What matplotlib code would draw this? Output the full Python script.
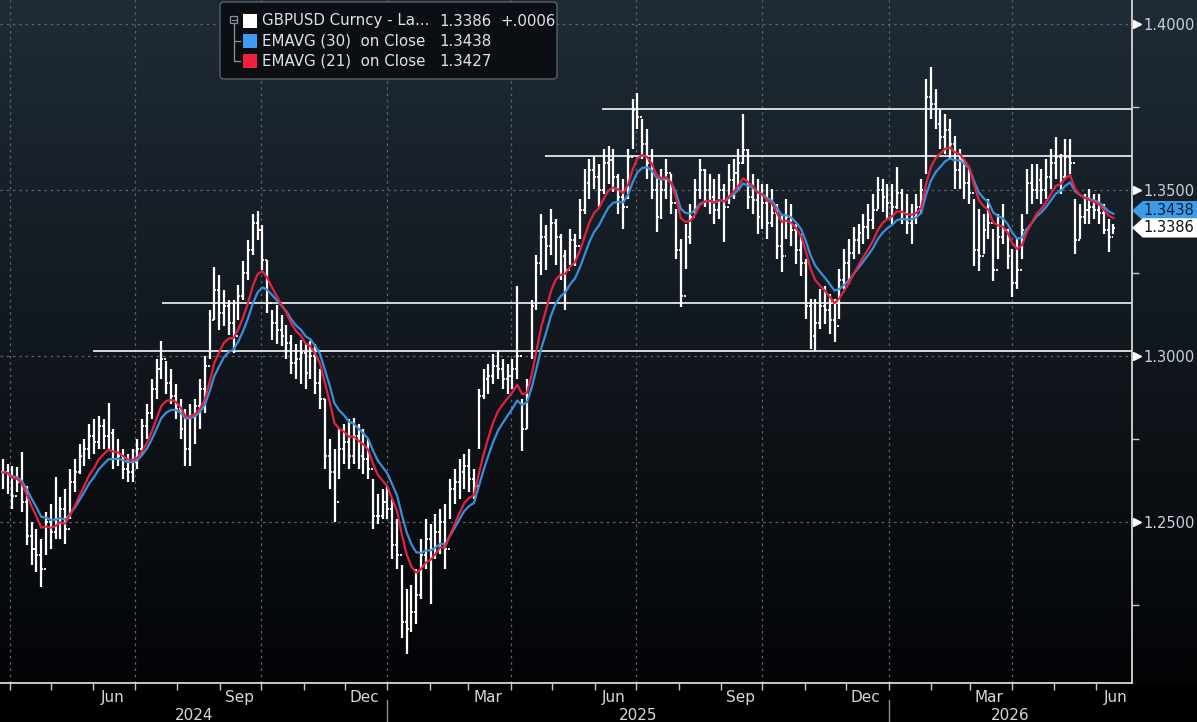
import numpy as np
import pandas as pd
import matplotlib
matplotlib.use("Agg")
import matplotlib.pyplot as plt
import matplotlib.dates as mdates
import matplotlib.ticker as ticker
from matplotlib.transforms import blended_transform_factory
from matplotlib.patches import Polygon, Rectangle, FancyBboxPatch

plt.rcParams['font.family'] = ['DejaVu Sans']

# GBPUSD, one bar per half week, in pips (12650 = 1.2650)
high = [
    12690, 12675, 12670, 12665, 12710, 12610, 12500, 12480, 12450, 12530,
    12555, 12635, 12575, 12600, 12660, 12690, 12735, 12750, 12795, 12810,
    12820, 12810, 12860, 12780, 12750, 12720, 12705, 12720, 12750, 12810,
    12855, 12930, 12990, 13045, 12985, 12960, 12915, 12870, 12840, 12855,
    12870, 12930, 13000, 13140, 13268, 13245, 13200, 13170, 13170, 13215,
    13285, 13350, 13427, 13436, 13395, 13290, 13140, 13155, 13125, 13095,
    13065, 13035, 13050, 13035, 13045, 13035, 12960, 12870, 12750, 12720,
    12780, 12795, 12810, 12815, 12795, 12780, 12750, 12630, 12585, 12600,
    12610, 12570, 12510, 12370, 12300, 12310, 12360, 12450, 12510, 12495,
    12525, 12540, 12555, 12630, 12660, 12690, 12705, 12720, 12660, 12900,
    12960, 12975, 13005, 13015, 12990, 12975, 12990, 13210, 12870, 12930,
    13170, 13305, 13427, 13395, 13442, 13412, 13367, 13320, 13382, 13367,
    13472, 13562, 13593, 13602, 13578, 13623, 13632, 13623, 13547, 13532,
    13623, 13773, 13791, 13713, 13683, 13623, 13532, 13562, 13593, 13547,
    13442, 13352, 13397, 13457, 13532, 13593, 13562, 13547, 13532, 13547,
    13517, 13578, 13593, 13623, 13728, 13623, 13547, 13532, 13517, 13517,
    13502, 13457, 13427, 13472, 13457, 13397, 13367, 13292, 13171, 13171,
    13202, 13211, 13186, 13171, 13262, 13322, 13352, 13388, 13397, 13427,
    13457, 13487, 13538, 13532, 13517, 13517, 13568, 13502, 13487, 13457,
    13487, 13532, 13833, 13869, 13803, 13743, 13728, 13713, 13662, 13623,
    13593, 13562, 13472, 13442, 13427, 13472, 13382, 13427, 13457, 13382,
    13322, 13352, 13427, 13562, 13578, 13578, 13562, 13593, 13623, 13659,
    13608, 13653, 13653, 13472, 13457, 13487, 13502, 13487, 13487, 13457,
    13412, 13397,
]
low = [
    12600, 12585, 12540, 12590, 12530, 12430, 12370, 12350, 12305, 12400,
    12420, 12450, 12450, 12435, 12510, 12590, 12645, 12670, 12690, 12705,
    12720, 12720, 12720, 12660, 12670, 12630, 12620, 12620, 12660, 12705,
    12750, 12810, 12870, 12930, 12885, 12855, 12810, 12750, 12670, 12670,
    12735, 12780, 12830, 12990, 13110, 13080, 13090, 13065, 13010, 13110,
    13170, 13230, 13305, 13350, 13260, 13130, 13050, 13035, 13030, 12990,
    12945, 12930, 12915, 12900, 12930, 12885, 12840, 12660, 12600, 12500,
    12630, 12675, 12660, 12675, 12660, 12645, 12630, 12480, 12495, 12510,
    12510, 12390, 12360, 12150, 12104, 12170, 12195, 12270, 12360, 12255,
    12390, 12405, 12360, 12510, 12555, 12570, 12600, 12590, 12570, 12720,
    12870, 12885, 12915, 12930, 12900, 12885, 12900, 12930, 12715, 12780,
    12990, 13140, 13245, 13260, 13305, 13275, 13230, 13140, 13275, 13270,
    13352, 13427, 13472, 13502, 13450, 13487, 13517, 13493, 13427, 13382,
    13472, 13623, 13683, 13593, 13532, 13472, 13373, 13412, 13472, 13427,
    13292, 13147, 13262, 13337, 13427, 13472, 13450, 13427, 13397, 13412,
    13343, 13457, 13472, 13502, 13578, 13442, 13427, 13367, 13382, 13352,
    13390, 13292, 13252, 13352, 13330, 13277, 13240, 13111, 13021, 13015,
    13081, 13096, 13066, 13042, 13111, 13202, 13217, 13292, 13307, 13337,
    13352, 13382, 13442, 13433, 13412, 13397, 13442, 13397, 13367, 13337,
    13397, 13427, 13547, 13713, 13683, 13623, 13608, 13593, 13502, 13502,
    13472, 13457, 13271, 13256, 13307, 13352, 13226, 13292, 13337, 13262,
    13177, 13202, 13292, 13427, 13457, 13472, 13457, 13472, 13502, 13532,
    13487, 13532, 13547, 13307, 13352, 13397, 13397, 13412, 13397, 13367,
    13313, 13367,
]
close = [
    12650, 12640, 12580, 12620, 12560, 12460, 12420, 12400, 12360, 12500,
    12470, 12510, 12540, 12480, 12620, 12650, 12700, 12720, 12760, 12740,
    12790, 12760, 12770, 12690, 12700, 12660, 12650, 12680, 12720, 12790,
    12830, 12900, 12960, 12990, 12920, 12880, 12840, 12780, 12720, 12820,
    12850, 12900, 12970, 13110, 13200, 13130, 13150, 13100, 13060, 13180,
    13250, 13320, 13400, 13380, 13290, 13160, 13100, 13080, 13060, 13040,
    12980, 12990, 13010, 12950, 13000, 12920, 12870, 12700, 12650, 12560,
    12720, 12740, 12700, 12760, 12700, 12690, 12660, 12520, 12520, 12560,
    12540, 12430, 12400, 12200, 12180, 12230, 12280, 12400, 12450, 12420,
    12470, 12500, 12420, 12600, 12620, 12650, 12670, 12630, 12610, 12880,
    12930, 12940, 12970, 12960, 12930, 12940, 12960, 13000, 12780, 12900,
    13150, 13280, 13360, 13330, 13400, 13360, 13300, 13260, 13350, 13330,
    13440, 13520, 13560, 13540, 13500, 13580, 13590, 13540, 13480, 13450,
    13600, 13740, 13720, 13640, 13580, 13500, 13420, 13500, 13550, 13460,
    13320, 13180, 13360, 13420, 13500, 13560, 13500, 13480, 13440, 13500,
    13450, 13530, 13550, 13580, 13620, 13480, 13470, 13420, 13460, 13400,
    13430, 13330, 13300, 13420, 13380, 13320, 13280, 13150, 13060, 13100,
    13150, 13140, 13110, 13090, 13230, 13280, 13310, 13350, 13370, 13390,
    13410, 13440, 13500, 13480, 13460, 13450, 13490, 13430, 13400, 13420,
    13450, 13500, 13780, 13760, 13700, 13660, 13680, 13640, 13560, 13590,
    13520, 13490, 13320, 13300, 13380, 13400, 13260, 13360, 13380, 13300,
    13220, 13260, 13380, 13520, 13500, 13530, 13500, 13540, 13580, 13600,
    13540, 13600, 13580, 13350, 13420, 13440, 13450, 13440, 13430, 13380,
    13360, 13386,
]

# horizontal support / resistance lines: value and start date
level_values = [1.3015, 1.3159, 1.3602, 1.3743]
level_starts = ["2024-06-01", "2024-07-21", "2025-04-26", "2025-06-06"]

legend_names = ["GBPUSD Curncy - La...", "EMAVG (30)  on Close", "EMAVG (21)  on Close"]
legend_values = ["1.3386", "1.3438", "1.3427"]
legend_change = "+.0006"
tag_values = [1.3438, 1.3386]

yticks = [1.25, 1.30, 1.35, 1.40]
yminor = [1.225, 1.275, 1.325, 1.375]

dates = pd.date_range("2024-03-27", periods=len(close), freq="84h")
d = mdates.date2num(dates)
H = np.array(high) / 1e4
L = np.array(low) / 1e4
C = np.array(close) / 1e4
O = np.r_[C[0], C[:-1]]

px = pd.Series(C)
# daily EMA spans converted to the half-week sampling (2.5 trading days)
ema30 = px.ewm(alpha=1 - (1 - 2 / 31) ** 2.5, adjust=False).mean()
ema21 = px.ewm(alpha=1 - (1 - 2 / 22) ** 2.5, adjust=False).mean()

W, Hpx = 1197, 722
fig = plt.figure(figsize=(W / 100, Hpx / 100), dpi=100)
fig.patch.set_facecolor("black")

# background gradient
bg = fig.add_axes([0, 0, 1, 1], zorder=-5)
bg.axis("off")
top = np.array([31, 43, 54]) / 255
bot = np.array([3, 4, 6]) / 255
frac = np.clip(np.arange(Hpx) / 683, 0, 1)[:, None]
img = top + (bot - top) * frac
img[683:] = 0
bg.imshow(img[:, None, :], aspect="auto", extent=[0, 1, 0, 1], interpolation="bilinear")
bg.set_xlim(0, 1)
bg.set_ylim(0, 1)

ax = fig.add_axes([0, 39 / Hpx, 1132 / W, 683 / Hpx])
ax.set_facecolor("none")

ax.set_xlim(mdates.datestr2num("2024-03-25"), mdates.datestr2num("2026-06-27"))
ax.set_ylim(1.2016, 1.4072)

# grid
grid_style = dict(color="#5d666f", lw=0.9, ls=(0, (2, 3)), zorder=0.5)
for q in pd.date_range("2024-04-01", "2026-04-01", freq="QS"):
    ax.axvline(q, **grid_style)
for v in yticks:
    ax.axhline(v, **grid_style)

# support / resistance
for v, s in zip(level_values, level_starts):
    ax.hlines(v, mdates.datestr2num(s), ax.get_xlim()[1], color="#e6e6e6", lw=1.3, zorder=2)

# price bars
ax.vlines(d, L, H, color="white", lw=1.6, zorder=3)
ax.hlines(C, d, d + 1.4, color="white", lw=1.3, zorder=3)
ax.hlines(O, d - 1.4, d, color="white", lw=1.3, zorder=3)

ax.plot(d, ema30, color="#3a8fdc", lw=1.6, zorder=4)
ax.plot(d, ema21, color="#e4223f", lw=1.6, zorder=4)

# spines
for s in ["top", "left"]:
    ax.spines[s].set_visible(False)
for s in ["bottom", "right"]:
    ax.spines[s].set_color("#d6d6d6")
    ax.spines[s].set_linewidth(1.3)

# x axis
ax.xaxis.set_major_locator(mdates.MonthLocator(bymonth=[3, 6, 9, 12], bymonthday=15))
ax.xaxis.set_major_formatter(mdates.DateFormatter("%b"))
ax.xaxis.set_minor_locator(mdates.MonthLocator())
ax.tick_params(axis="x", which="major", length=0, pad=5, labelsize=11, labelcolor="#d3d8dd")
ax.tick_params(axis="x", which="minor", length=5, width=1, color="#c4c8cc")

trans_x = blended_transform_factory(ax.transData, ax.transAxes)
x0, x1 = ax.get_xlim()
year_edges = [x0, mdates.datestr2num("2025-01-01"), mdates.datestr2num("2026-01-01"), x1]
for i, yr in enumerate(["2024", "2025", "2026"]):
    ax.text((year_edges[i] + year_edges[i + 1]) / 2, -0.047, yr, transform=trans_x,
            ha="center", va="center", fontsize=11, color="#d3d8dd")
for e in year_edges[1:3]:
    ax.plot([e, e], [-0.025, -0.06], transform=trans_x, color="#8a9096", lw=1, clip_on=False)

# y axis on the right
ax.yaxis.tick_right()
ax.yaxis.set_major_locator(ticker.FixedLocator(yticks))
ax.yaxis.set_major_formatter(ticker.FuncFormatter(lambda v, p: f"{v:.4f}"))
ax.yaxis.set_minor_locator(ticker.FixedLocator(yminor))
ax.tick_params(axis="y", which="major", length=0, pad=8, labelsize=10.5, labelcolor="#c9d1d9")
ax.tick_params(axis="y", which="minor", length=5, width=1, color="#c4c8cc")

trans_y = blended_transform_factory(ax.transAxes, ax.transData)
ax.plot([1.0045] * len(yticks), yticks, ls="none", marker=">", ms=6, color="white",
        transform=trans_y, clip_on=False)

# last value tags
tag_colors = [("#3d9be8", "#0b1f36"), ("white", "#111111")]
hh = 0.0029
for v, (fc, tc) in zip(tag_values, tag_colors):
    poly = Polygon([(1.0, v), (1.0095, v + hh), (1.07, v + hh), (1.07, v - hh), (1.0095, v - hh)],
                   closed=True, transform=trans_y, fc=fc, ec="none", clip_on=False, zorder=6)
    ax.add_patch(poly)
    ax.text(1.0105, v, f"{v:.4f}", transform=trans_y, va="center", ha="left",
            fontsize=10.5, color=tc, zorder=7, clip_on=False)

# legend block
ov = fig.add_axes([0, 0, 1, 1], zorder=10)
ov.set_xlim(0, W)
ov.set_ylim(Hpx, 0)
ov.axis("off")
ov.add_patch(FancyBboxPatch((220, 2), 337, 77, boxstyle="round,pad=0,rounding_size=4",
                            fc="#0b0f13", ec="#56606a", lw=1))
tree = "#8a949e"
ov.add_patch(Rectangle((230, 16), 7, 7, fc="none", ec=tree, lw=0.9))
ov.plot([231.5, 235.5], [19.5, 19.5], color=tree, lw=0.8)
ov.plot([233.5, 233.5, 240], [23, 61, 61], color=tree, lw=0.9)
ov.plot([233.5, 240], [41, 41], color=tree, lw=0.9)
sq_colors = ["white", "#3d9cf0", "#f0203c"]
for i in range(3):
    yc = 21 + i * 20
    ov.add_patch(Rectangle((243, yc - 7), 14, 14, fc=sq_colors[i], ec="none"))
    ov.text(262, yc, legend_names[i], va="center", ha="left", fontsize=10.8, color="#dfe3e8")
    ov.text(439, yc, legend_values[i], va="center", ha="left", fontsize=10.8, color="#dfe3e8")
ov.text(500, 21, legend_change, va="center", ha="left", fontsize=10.8, color="#dfe3e8")

fig.savefig("out.png", dpi=100, facecolor="black")
